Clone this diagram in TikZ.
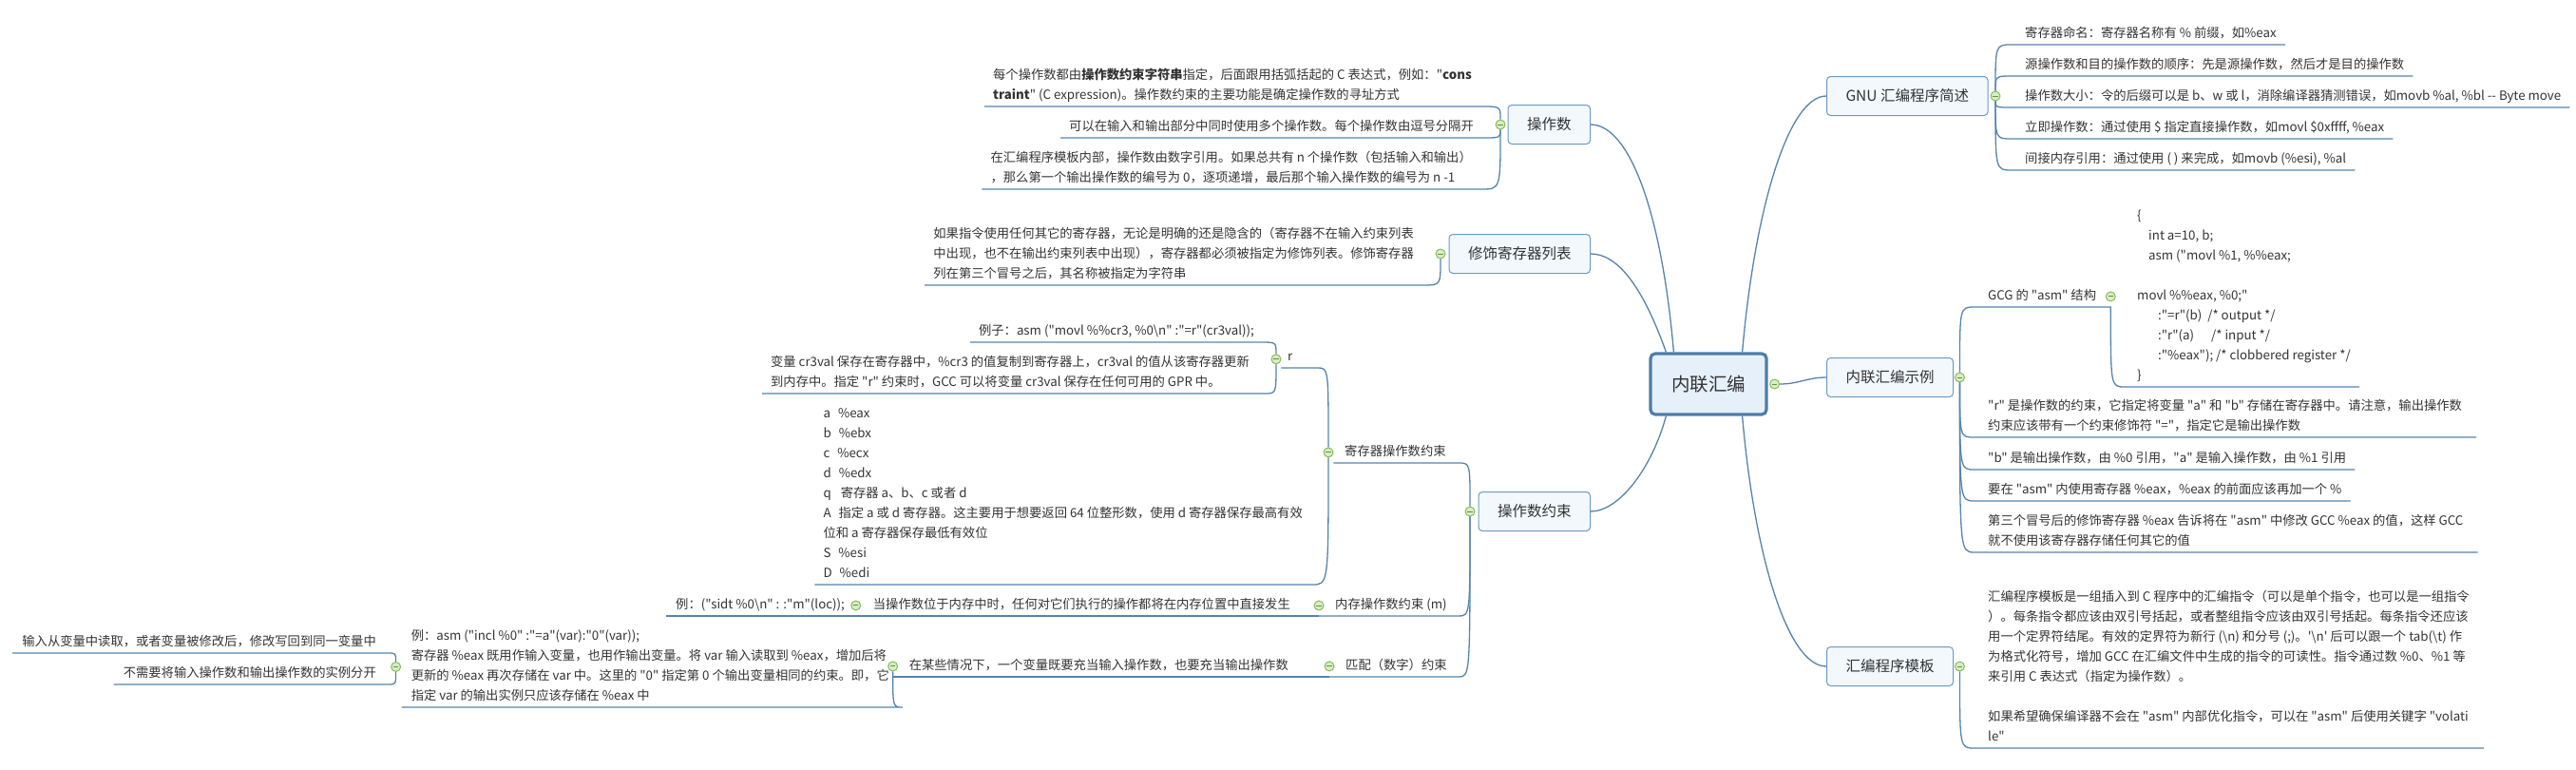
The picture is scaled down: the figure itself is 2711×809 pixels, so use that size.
\documentclass[tikz,border=0pt]{standalone}
\usepackage{fontspec}
\newfontfamily\cjkmain{Noto Sans CJK SC}
\usetikzlibrary{positioning}

\definecolor{linkblue}{HTML}{5584AC}
\definecolor{boxline}{HTML}{6C9BC4}
\definecolor{boxfill}{HTML}{F3F8FD}
\definecolor{rootline}{HTML}{4D7EA8}
\definecolor{rootfill}{HTML}{E6F0FA}
\definecolor{knobfill}{HTML}{D6EEC2}
\definecolor{knobline}{HTML}{80B755}
\definecolor{ink}{HTML}{333333}

\newcommand\leafsize{\cjkmain\fontsize{13.3}{21}\selectfont}
\newcommand\dpstrut{\rule[-3.5pt]{0pt}{3.5pt}}

\begin{document}
\begin{tikzpicture}[x=1pt, y=-1pt,
    link/.style={draw=linkblue, line width=1.3pt},
    root/.style={draw=rootline, fill=rootfill, line width=3.2pt, rounded corners=5pt,
      minimum width=122pt, minimum height=64pt, inner sep=0pt,
      font=\cjkmain\fontsize{19.5}{22}\selectfont, text=ink},
    topic/.style={draw=boxline, fill=boxfill, line width=1pt, rounded corners=4pt,
      minimum height=41pt, inner xsep=20pt, font=\cjkmain\fontsize{15.5}{18}\selectfont, text=ink},
    leaf/.style={inner xsep=0pt, inner ysep=3.5pt, align=left, text=ink,
      font=\leafsize, execute at end node=\dpstrut},
    rleaf/.style={leaf, anchor=south west},
    lleaf/.style={leaf, anchor=south east},
    knob/.style={circle, draw=knobline, fill=knobfill, line width=0.9pt,
      minimum size=10pt, inner sep=0pt,
      path picture={\draw[knobline!80!black, line width=0.9pt]
        ([xshift=-2.6pt]path picture bounding box.center) --
        ([xshift=2.6pt]path picture bounding box.center);}}]

  \useasboundingbox (0,0) rectangle (2711,809);

  \node[root] (root) at (1798,404) {内联汇编};

  \begin{scope}[every node/.style={topic, anchor=east}]
    \node (ops)  at (1674,131) {操作数};
    \node (clob) at (1674,267) {修饰寄存器列表};
    \node (cons) at (1674,538) {操作数约束};
  \end{scope}

  \begin{scope}[every node/.style={topic, anchor=west}]
    \node (gnu)  at (1922,101) {GNU 汇编程序简述};
    \node (demo) at (1922,397) {内联汇编示例};
    \node (tmpl) at (1922,701) {汇编程序模板};
  \end{scope}

  % GNU
  \node[rleaf] (g1) at (2131,47)  {寄存器命名：寄存器名称有 \% 前缀，如\%eax};
  \node[rleaf] (g2) at (2131,80)  {源操作数和目的操作数的顺序：先是源操作数，然后才是目的操作数};
  \node[rleaf] (g3) at (2131,113) {操作数大小：令的后缀可以是 b、w 或 l，消除编译器猜测错误，如movb \%al, \%bl -{}- Byte move};
  \node[rleaf] (g4) at (2131,146) {立即操作数：通过使用 \$ 指定直接操作数，如movl \$0xffff, \%eax};
  \node[rleaf] (g5) at (2131,179) {间接内存引用：通过使用 ( ) 来完成，如movb (\%esi), \%al};

  % example
  \node[rleaf] (gcg) at (2092,323) {GCG 的 "asm" 结构};
  \node[rleaf] (code) at (2249,407) {\{\\
    \hspace*{12pt}int a=10, b;\\
    \hspace*{12pt}asm ("movl \%1, \%\%eax;\\[21pt]
    movl \%\%eax, \%0;"\\
    \hspace*{22pt}:"=r"(b)\hspace*{6pt}/* output */\\
    \hspace*{22pt}:"r"(a)\hspace*{18pt}/* input */\\
    \hspace*{22pt}:"\%eax"); /* clobbered register */\\
    \}};
  \node[rleaf] (e2) at (2092,460) {"r" 是操作数的约束，它指定将变量 "a" 和 "b" 存储在寄存器中。请注意，输出操作数\\约束应该带有一个约束修饰符 "="，指定它是输出操作数};
  \node[rleaf] (e3) at (2092,494) {"b" 是输出操作数，由 \%0 引用，"a" 是输入操作数，由 \%1 引用};
  \node[rleaf] (e4) at (2092,527) {要在 "asm" 内使用寄存器 \%eax，\%eax 的前面应该再加一个 \%};
  \node[rleaf] (e5) at (2092,581) {第三个冒号后的修饰寄存器 \%eax 告诉将在 "asm" 中修改 GCC \%eax 的值，这样 GCC\\就不使用该寄存器存储任何其它的值};

  % template
  \node[rleaf] (t1) at (2092,787) {汇编程序模板是一组插入到 C 程序中的汇编指令（可以是单个指令，也可以是一组指令\\）。每条指令都应该由双引号括起，或者整组指令应该由双引号括起。每条指令还应该\\用一个定界符结尾。有效的定界符为新行 (\textbackslash n) 和分号 (;)。'\textbackslash n' 后可以跟一个 tab(\textbackslash t) 作\\为格式化符号，增加 GCC 在汇编文件中生成的指令的可读性。指令通过数 \%0、\%1 等\\来引用 C 表达式（指定为操作数）。\\[21pt]如果希望确保编译器不会在 "asm" 内部优化指令，可以在 "asm" 后使用关键字 "volati\\le"};

  % operands
  \node[lleaf] (o1) at (1549,112) {每个操作数都由\textbf{操作数约束字符串}指定，后面跟用括弧括起的 C 表达式，例如："\textbf{cons}\\\textbf{traint}" (C expression)。操作数约束的主要功能是确定操作数的寻址方式};
  \node[lleaf] (o2) at (1551,145) {可以在输入和输出部分中同时使用多个操作数。每个操作数由逗号分隔开};
  \node[lleaf] (o3) at (1549,199) {在汇编程序模板内部，操作数由数字引用。如果总共有 n 个操作数（包括输入和输出）\\，那么第一个输出操作数的编号为 0，逐项递增，最后那个输入操作数的编号为 n -1};

  % clobber list
  \node[lleaf] (k1) at (1488,300) {如果指令使用任何其它的寄存器，无论是明确的还是隐含的（寄存器不在输入约束列表\\中出现，也不在输出约束列表中出现），寄存器都必须被指定为修饰列表。修饰寄存器\\列在第三个冒号之后，其名称被指定为字符串};

  % constraints
  \node[rleaf] (reg) at (1415,487) {寄存器操作数约束};
  \node[rleaf] (rr)  at (1355,387) {r};
  \node[lleaf] (ra)  at (1320,360) {例子：asm ("movl \%\%cr3, \%0\textbackslash n" :"=r"(cr3val));};
  \node[lleaf] (rb)  at (1315,414) {变量 cr3val 保存在寄存器中，\%cr3 的值复制到寄存器上，cr3val 的值从该寄存器更新\\到内存中。指定 "r" 约束时，GCC 可以将变量 cr3val 保存在任何可用的 GPR 中。};
  \node[lleaf] (regl) at (1371,615) {a\hspace*{8pt}\%eax\\
    b\hspace*{8pt}\%ebx\\
    c\hspace*{8pt}\%ecx\\
    d\hspace*{8pt}\%edx\\
    q\hspace*{10pt}寄存器 a、b、c 或者 d\\
    A\hspace*{8pt}指定 a 或 d 寄存器。这主要用于想要返回 64 位整形数，使用 d 寄存器保存最高有效\\
    位和 a 寄存器保存最低有效位\\
    S\hspace*{8pt}\%esi\\
    D\hspace*{8pt}\%edi};

  \node[rleaf] (mem)  at (1405,648) {内存操作数约束 (m)};
  \node[lleaf] (mem2) at (1358,648) {当操作数位于内存中时，任何对它们执行的操作都将在内存位置中直接发生};
  \node[lleaf] (mem3) at (889,648)  {例：("sidt \%0\textbackslash n" : :"m"(loc));};

  \node[rleaf] (pm)  at (1416,712) {匹配（数字）约束};
  \node[lleaf] (pm2) at (1356,712) {在某些情况下，一个变量既要充当输入操作数，也要充当输出操作数};
  \node[lleaf] (pm3) at (936,744)  {例：asm ("incl \%0" :"=a"(var):"0"(var));\\寄存器 \%eax 既用作输入变量，也用作输出变量。将 var 输入读取到 \%eax，增加后将\\更新的 \%eax 再次存储在 var 中。这里的 "0" 指定第 0 个输出变量相同的约束。即，它\\指定 var 的输出实例只应该存储在 \%eax 中};
  \node[lleaf] (pm4) at (396,687) {输入从变量中读取，或者变量被修改后，修改写回到同一变量中};
  \node[lleaf] (pm5) at (396,720) {不需要将输入操作数和输出操作数的实例分开};

  \begin{scope}[every node/.style={knob}]
    \node[right=1.5pt of root] (rootk) {};
    \node[right=2pt of gnu]    (gnuk)  {};
    \node[right=1pt of demo]   (demok) {};
    \node[right=1pt of tmpl]   (tmplk) {};
    \node[left=2pt of ops]     (opsk)  {};
    \node[left=3pt of clob]    (clobk) {};
    \node[left=3pt of cons]    (consk) {};
    \node (gcgk) at ([xshift=15pt]gcg.east) {};
    \node (rrk)  at ([xshift=-12pt]rr.west) {};
    \node (regk) at ([xshift=-17pt]reg.west) {};
    \node (memk) at ([xshift=-17pt]mem.west) {};
    \node (mem2k) at ([xshift=-18pt]mem2.west) {};
    \node (pmk)  at ([xshift=-17pt]pm.west) {};
    \node (pm2k) at ([xshift=-17pt]pm2.west) {};
    \node (pm3k) at ([xshift=-16pt]pm3.west) {};
  \end{scope}

  \begin{scope}[every path/.style={link}]
    \draw ([xshift=26pt]root.north west) .. controls +(-13,-150) and +(40,0) .. (ops.east);
    \draw ([xshift=18pt]root.north west) .. controls +(-25,-70) and +(28,0) .. (clob.east);
    \draw ([xshift=18pt]root.south west) .. controls +(-15,55) and +(30,0) .. (cons.east);
    \draw ([xshift=-27pt]root.north east) .. controls +(13,-150) and +(-40,0) .. (gnu.west);
    \draw ([xshift=-27pt]root.south east) .. controls +(13,150) and +(-40,0) .. (tmpl.west);
    \draw (rootk.east) .. controls +(20,0) and +(-20,0) .. (demo.west);

    \draw (gnuk.north) .. controls (gnuk.north |- g1.south) .. ([xshift=-14pt]g1.south west) -- ([xshift=9pt]g1.south east);
    \draw (gnuk.north) .. controls (gnuk.north |- g2.south) .. ([xshift=-14pt]g2.south west) -- ([xshift=9pt]g2.south east);
    \draw (gnuk.south) .. controls (gnuk.south |- g3.south) .. ([xshift=-14pt]g3.south west) -- ([xshift=9pt]g3.south east);
    \draw (gnuk.south) .. controls (gnuk.south |- g4.south) .. ([xshift=-14pt]g4.south west) -- ([xshift=9pt]g4.south east);
    \draw (gnuk.south) .. controls (gnuk.south |- g5.south) .. ([xshift=-14pt]g5.south west) -- ([xshift=9pt]g5.south east);

    \draw (demok.north) .. controls (demok.north |- gcg.south) .. ([xshift=-14pt]gcg.south west) -- (gcgk.center |- gcg.south)
      .. controls (gcgk.center |- code.south) .. ([xshift=-13pt]code.south west) -- ([xshift=9pt]code.south east);
    \draw (demok.south) .. controls (demok.south |- e2.south) .. ([xshift=-14pt]e2.south west) -- ([xshift=15pt]e2.south east);
    \draw (demok.south) .. controls (demok.south |- e3.south) .. ([xshift=-14pt]e3.south west) -- ([xshift=9pt]e3.south east);
    \draw (demok.south) .. controls (demok.south |- e4.south) .. ([xshift=-14pt]e4.south west) -- ([xshift=9pt]e4.south east);
    \draw (demok.south) .. controls (demok.south |- e5.south) .. ([xshift=-14pt]e5.south west) -- ([xshift=15pt]e5.south east);

    \draw (tmplk.south) .. controls (tmplk.south |- t1.south) .. ([xshift=-14pt]t1.south west) -- ([xshift=15pt]t1.south east);

    \draw ([xshift=-9pt]o1.south west) -- ([xshift=10pt]o1.south east) .. controls (opsk.north |- o1.south) .. (opsk.north);
    \draw ([xshift=-9pt]o2.south west) -- ([xshift=9pt]o2.south east) .. controls (opsk.south |- o2.south) .. (opsk.south);
    \draw ([xshift=-9pt]o3.south west) -- ([xshift=10pt]o3.south east) .. controls (opsk.south |- o3.south) .. (opsk.south);

    \draw ([xshift=-9pt]k1.south west) -- ([xshift=10pt]k1.south east) .. controls (clobk.south |- k1.south) .. (clobk.south);

    \draw (regk.east |- reg.south) -- ([xshift=13pt]reg.south east) .. controls (consk.north |- reg.south) .. (consk.north);
    \draw (rrk.east |- rr.south) -- ([xshift=26pt]rr.south east) .. controls (regk.north |- rr.south) .. (regk.north);
    \draw ([xshift=-9pt]ra.south west) -- ([xshift=7pt]ra.south east) .. controls (rrk.north |- ra.south) .. (rrk.north);
    \draw ([xshift=-9pt]rb.south west) -- ([xshift=16pt]rb.south east) .. controls (rrk.south |- rb.south) .. (rrk.south);
    \draw ([xshift=-9pt]regl.south west) -- ([xshift=10pt]regl.south east) .. controls (regk.south |- regl.south) .. (regk.south);

    \draw (memk.center |- mem.south) -- ([xshift=12pt]mem.south east) .. controls (consk.south |- mem.south) .. (consk.south);
    \draw (mem2k.center |- mem2.south) -- (memk.center |- mem2.south);
    \draw ([xshift=-10pt]mem3.south west) -- (mem2k.center |- mem3.south);

    \draw (pmk.center |- pm.south) -- ([xshift=12pt]pm.south east) .. controls (consk.south |- pm.south) .. (consk.south);
    \draw (pm2k.center |- pm2.south) -- (pmk.center |- pm2.south);
    \draw ([xshift=-10pt]pm3.south west) -- ([xshift=14pt]pm3.south east) .. controls (pm2k.center |- pm3.south) .. (pm2k.south);
    \draw ([xshift=-10pt]pm4.south west) -- ([xshift=12pt]pm4.south east) .. controls (pm3k.north |- pm4.south) .. (pm3k.north);
    \draw ([xshift=-10pt]pm5.south west) -- ([xshift=12pt]pm5.south east) .. controls (pm3k.south |- pm5.south) .. (pm3k.south);
  \end{scope}

\end{tikzpicture}
\end{document}
